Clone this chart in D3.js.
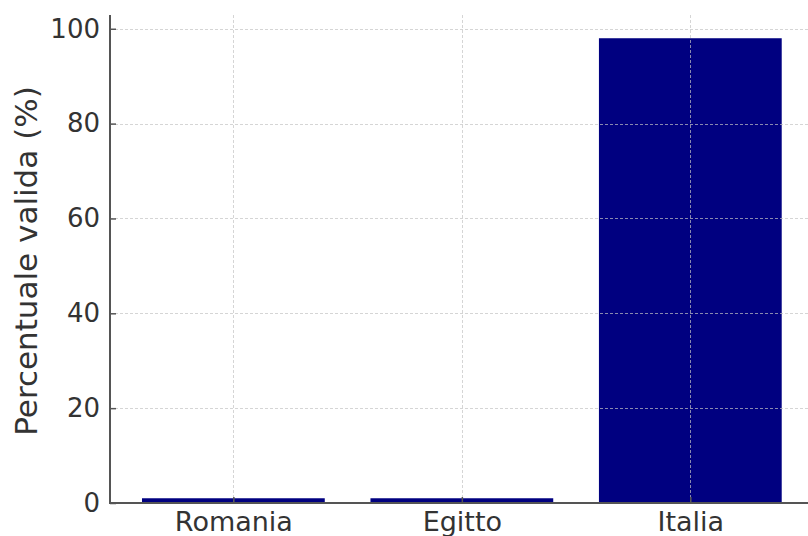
<!DOCTYPE html>
<html><head><meta charset="utf-8">
<script src="https://cdn.jsdelivr.net/npm/d3@7"></script>
<style>
html,body{margin:0;padding:0;background:#fff;}
svg{display:block;font-family:"DejaVu Sans",sans-serif;}
</style></head>
<body>
<svg id="chart" width="808" height="536"></svg>
<script>
const categories = ["Romania", "Egitto", "Italia"];
const values = [1, 1, 98];
const yTicks = [0, 20, 40, 60, 80, 100];
const yLabel = "Percentuale valida (%)";

(function () {
const svg = d3.select("#chart");
const mLeft = 110, mBottom = 503, mTop = 15, mRight = 813.7;

const x = d3.scaleLinear().domain([-0.54, categories.length - 1 + 0.54]).range([mLeft, mRight]);
const y = d3.scaleLinear().domain([0, 102.9]).range([mBottom, mTop]);
const bw = x(0.4) - x(-0.4);

// bars
svg.append("g").selectAll("rect").data(values).join("rect")
  .attr("x", (d, i) => x(i) - bw / 2)
  .attr("width", bw)
  .attr("y", d => y(d))
  .attr("height", d => y(0) - y(d))
  .attr("fill", "#000080");

// grid
const grid = svg.append("g").attr("stroke", "#c4c4c4").attr("stroke-width", 1)
  .attr("stroke-dasharray", "3,2").attr("opacity", 0.7);
grid.selectAll("line.h").data(yTicks).join("line").attr("class", "h")
  .attr("x1", mLeft).attr("x2", 808)
  .attr("y1", d => Math.round(y(d)) + 0.5).attr("y2", d => Math.round(y(d)) + 0.5);
grid.selectAll("line.v").data(categories).join("line").attr("class", "v")
  .attr("x1", (d, i) => Math.round(x(i)) + 0.5).attr("x2", (d, i) => Math.round(x(i)) + 0.5)
  .attr("y1", mTop).attr("y2", mBottom);

// axes
const yAxis = d3.axisLeft(y).tickValues(yTicks).tickSize(-6).tickPadding(10);
const gy = svg.append("g").attr("transform", `translate(${mLeft},0)`).call(yAxis);
gy.select(".domain").remove();
gy.selectAll(".tick line").attr("stroke", "#555").attr("stroke-width", 1.5);
gy.selectAll(".tick text").attr("font-size", 26).attr("fill", "#333")
  .attr("font-family", "DejaVu Sans");

const xAxis = d3.axisBottom(x).tickValues(d3.range(categories.length))
  .tickFormat(i => categories[i]).tickSize(-6).tickPadding(12);
const gx = svg.append("g").attr("transform", `translate(0,${mBottom})`).call(xAxis);
gx.select(".domain").remove();
gx.selectAll(".tick line").attr("stroke", "#555").attr("stroke-width", 1.5);
gx.selectAll(".tick text").attr("font-size", 27).attr("fill", "#333")
  .attr("font-family", "DejaVu Sans").attr("dy", "0.6em");

// spines
svg.append("line").attr("x1", mLeft).attr("x2", mLeft).attr("y1", mTop).attr("y2", mBottom)
  .attr("stroke", "#555").attr("stroke-width", 2);
svg.append("line").attr("x1", mLeft - 1).attr("x2", 808).attr("y1", mBottom).attr("y2", mBottom)
  .attr("stroke", "#555").attr("stroke-width", 2);

// y label
svg.append("text").attr("transform", `translate(37,${(mTop + mBottom) / 2 + 2}) rotate(-90)`)
  .attr("text-anchor", "middle").attr("font-size", 31).attr("fill", "#333")
  .text(yLabel);
})();
</script>
</body></html>
